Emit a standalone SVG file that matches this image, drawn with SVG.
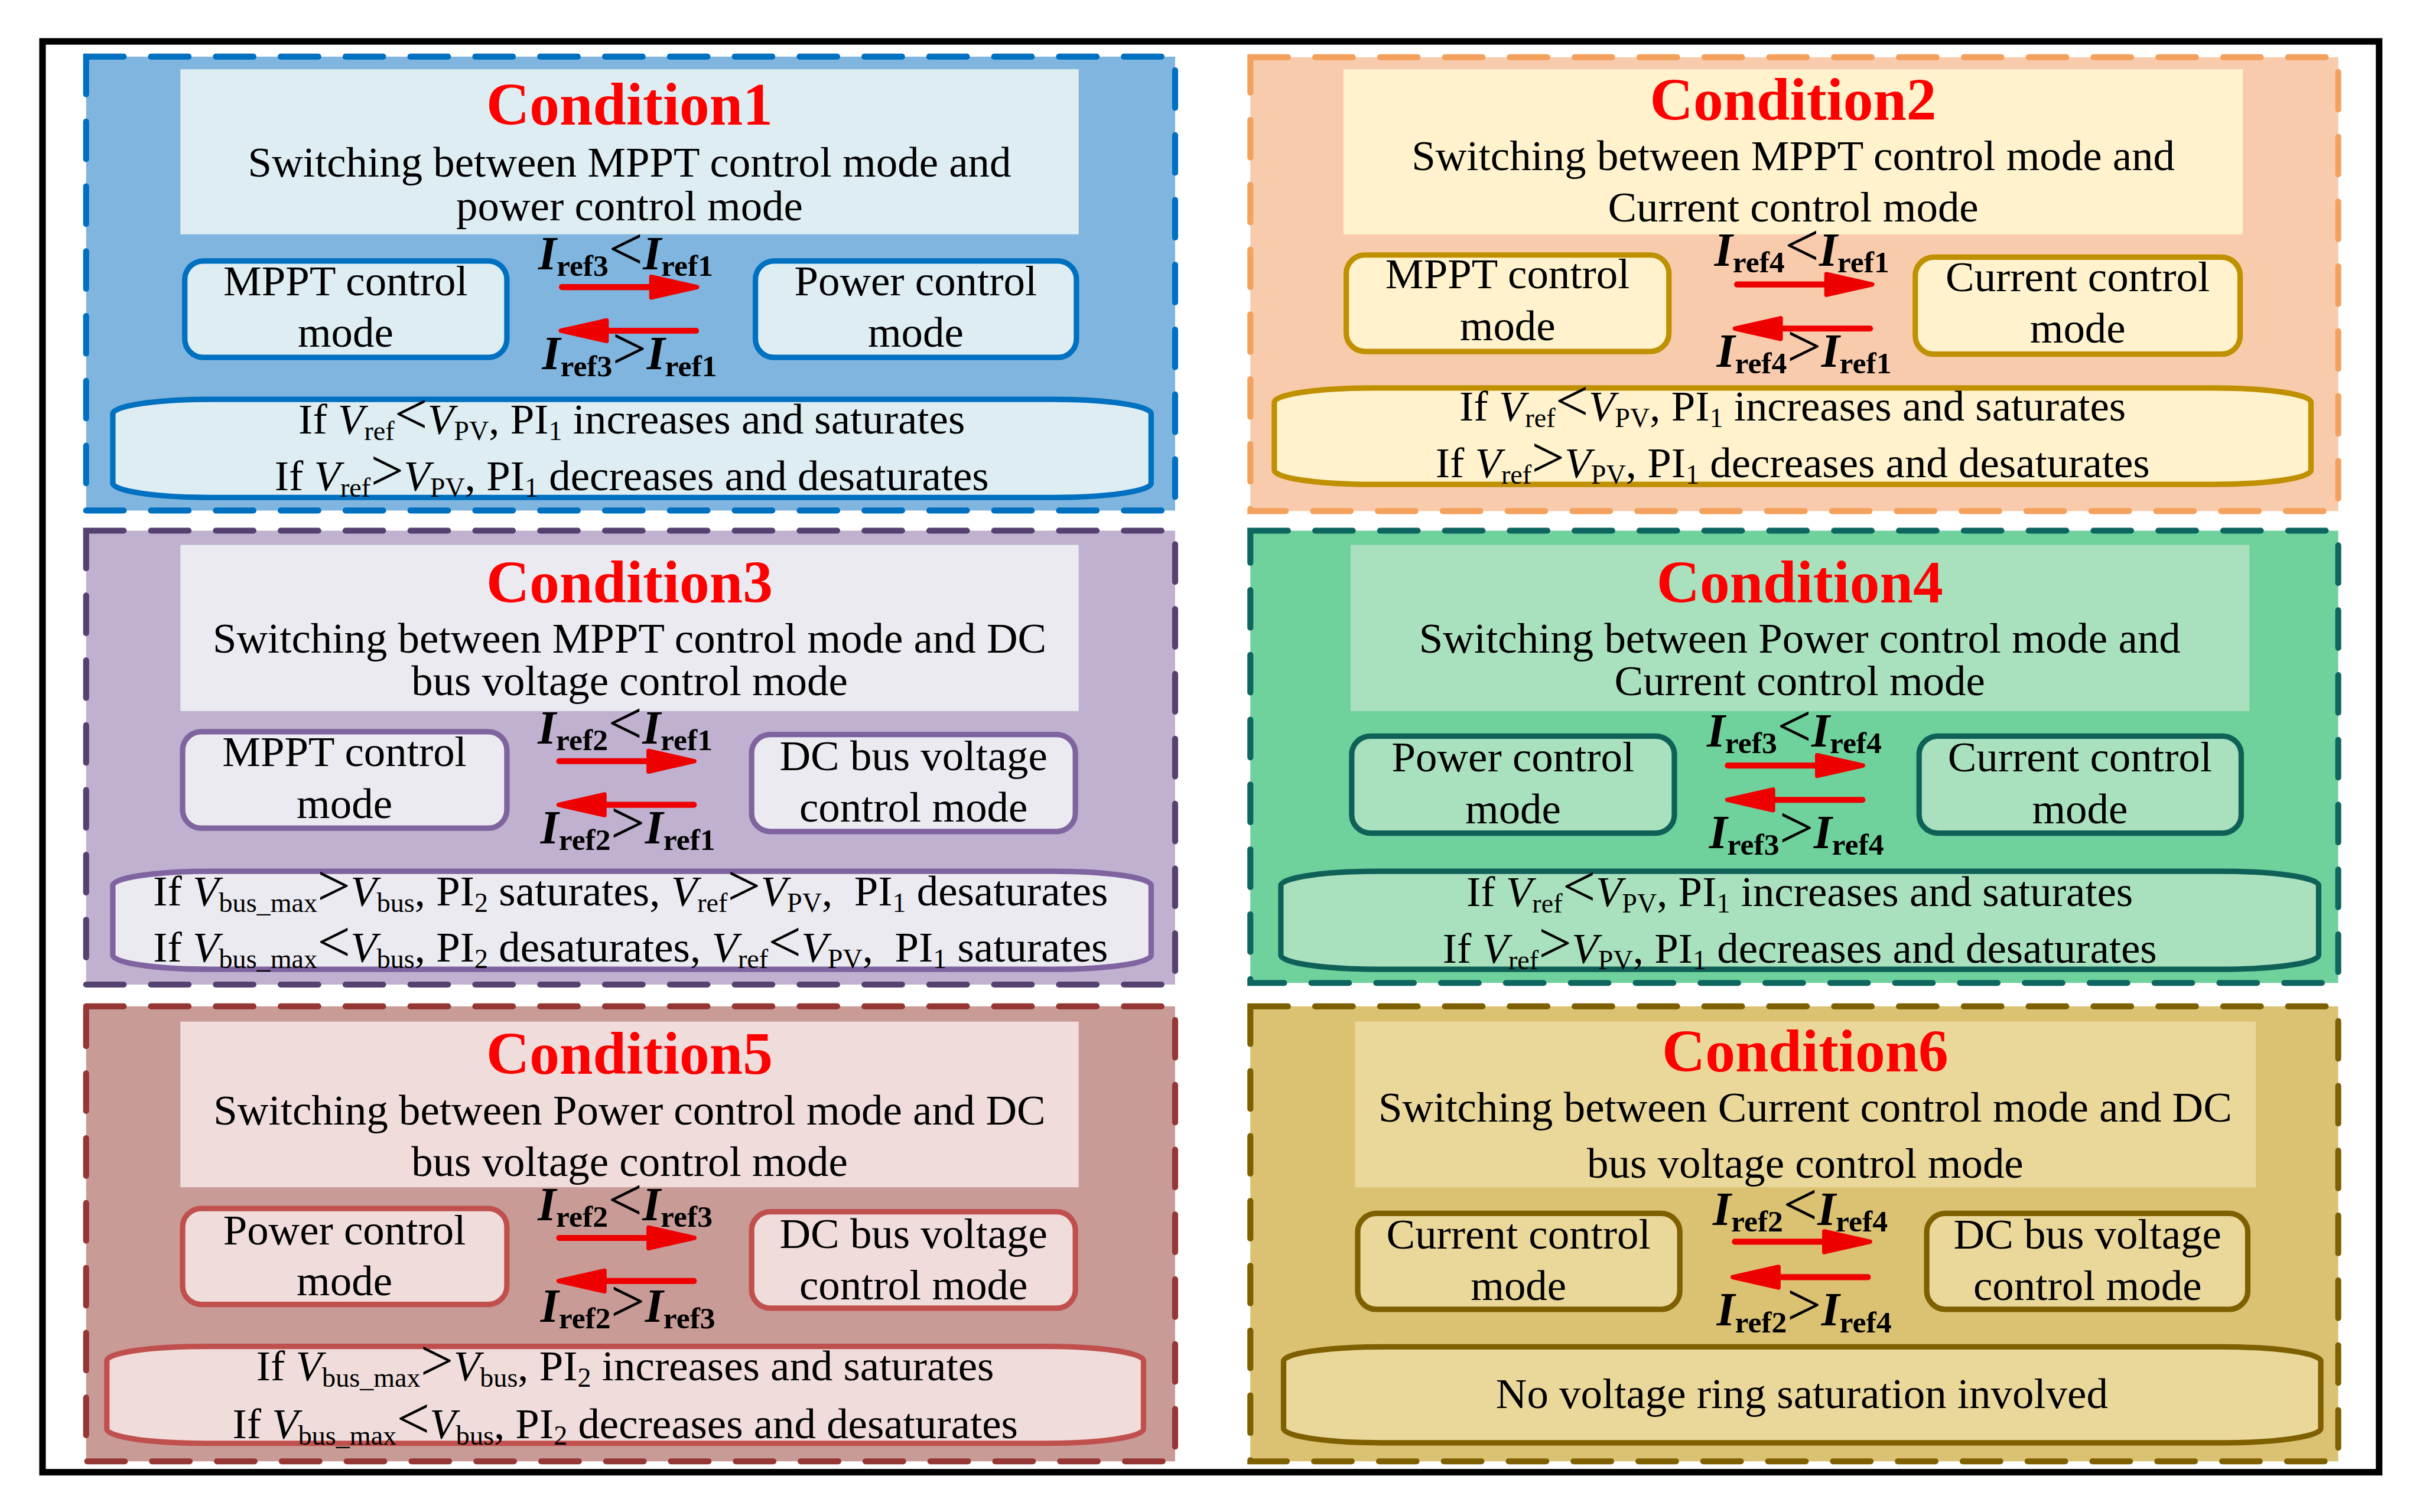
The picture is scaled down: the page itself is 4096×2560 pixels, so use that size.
<svg xmlns="http://www.w3.org/2000/svg" xmlns:xlink="http://www.w3.org/1999/xlink" width="4096" height="2560" viewBox="0 0 4096 2560">
<defs>
<style>
.panel{stroke-width:11;stroke-dasharray:69 50;stroke-linecap:round}
.box{stroke-width:10}
.cond{font-family:"Liberation Serif","Times New Roman",serif;font-weight:bold;font-size:110px;fill:#FF0000;text-anchor:middle}
.t{font-family:"Liberation Serif","Times New Roman",serif;font-size:79px;fill:#000;text-anchor:middle}
.i{font-style:italic}
.s{font-size:50px}
.op{font-size:108px}
.lab{font-family:"Liberation Serif","Times New Roman",serif;font-weight:bold;font-size:86px;fill:#000;text-anchor:middle}
.bi{font-style:italic}
.bs{font-size:56px}
.lop{font-weight:normal;font-size:112px}
.arr{fill:#EE0000;stroke:#EE0000;stroke-linejoin:round;stroke-linecap:round}
</style>
<g id="arrow">
<line x1="0" y1="0" x2="170" y2="0" stroke="#EE0000" stroke-width="11" stroke-linecap="round"/>
<polygon class="arr" stroke-width="8" points="164,-19 248,0 164,19"/>
</g>
</defs>
<rect width="4096" height="2560" fill="#FFFFFF"/>
<g transform="scale(0.92252)">
<rect x="78" y="76" width="4287" height="2626" fill="none" stroke="#000" stroke-width="12"/>

<!-- Condition 1 -->
<g id="condition1">
<rect class="panel" x="158" y="104" width="1998" height="833" fill="#7FB5DE" stroke="#0070C0"/>
<rect x="331" y="127" width="1648" height="303" fill="#DEEDF2"/>
<text class="cond" x="1155" y="229">Condition1</text>
<text class="t" x="1155" y="324">Switching between MPPT control mode and</text>
<text class="t" x="1155" y="404">power control mode</text>
<g id="c1-mppt"><rect class="box" x="339" y="479" width="591" height="177" rx="34" fill="#DEEDF2" stroke="#0070C0"/>
<text class="t" x="634" y="542">MPPT control</text><text class="t" x="634" y="636">mode</text></g>
<g id="c1-power"><rect class="box" x="1386" y="479" width="589" height="177" rx="34" fill="#DEEDF2" stroke="#0070C0"/>
<text class="t" x="1680" y="542">Power control</text><text class="t" x="1680" y="636">mode</text></g>
<text class="lab" x="1148" y="494"><tspan class="bi">I</tspan><tspan class="bs" dy="12">ref3</tspan><tspan class="lop" dy="-12">&lt;</tspan><tspan class="bi">I</tspan><tspan class="bs" dy="12">ref1</tspan></text>
<text class="lab" x="1155" y="678"><tspan class="bi">I</tspan><tspan class="bs" dy="12">ref3</tspan><tspan class="lop" dy="-12">&gt;</tspan><tspan class="bi">I</tspan><tspan class="bs" dy="12">ref1</tspan></text>
<g id="c1-cond"><rect class="box" x="207" y="733" width="1905" height="180" rx="180" ry="26" fill="#DEEDF2" stroke="#0070C0"/>
<text class="t" x="1159" y="796">If <tspan class="i">V</tspan><tspan class="s" dy="12">ref</tspan><tspan class="op" dy="-12">&lt;</tspan><tspan class="i">V</tspan><tspan class="s" dy="12">PV</tspan><tspan dy="-12">, PI</tspan><tspan class="s" dy="12">1</tspan><tspan dy="-12"> increases and saturates</tspan></text>
<text class="t" x="1159" y="900">If <tspan class="i">V</tspan><tspan class="s" dy="12">ref</tspan><tspan class="op" dy="-12">&gt;</tspan><tspan class="i">V</tspan><tspan class="s" dy="12">PV</tspan><tspan dy="-12">, PI</tspan><tspan class="s" dy="12">1</tspan><tspan dy="-12"> decreases and desaturates</tspan></text></g>
</g>

<!-- Condition 2 -->
<g id="condition2">
<rect class="panel" x="2294" y="105" width="1996" height="833" fill="#F8CBAD" stroke="#F4A15D"/>
<rect x="2465" y="127" width="1650" height="303" fill="#FFF2CC"/>
<text class="cond" x="3290" y="220">Condition2</text>
<text class="t" x="3290" y="312">Switching between MPPT control mode and</text>
<text class="t" x="3290" y="406">Current control mode</text>
<g id="c2-mppt"><rect class="box" x="2470" y="468" width="592" height="177" rx="34" fill="#FFF2CC" stroke="#BF9000"/>
<text class="t" x="2766" y="529">MPPT control</text><text class="t" x="2766" y="624">mode</text></g>
<g id="c2-current"><rect class="box" x="3514" y="472" width="596" height="178" rx="34" fill="#FFF2CC" stroke="#BF9000"/>
<text class="t" x="3812" y="534">Current control</text><text class="t" x="3812" y="629">mode</text></g>
<text class="lab" x="3306" y="488"><tspan class="bi">I</tspan><tspan class="bs" dy="12">ref4</tspan><tspan class="lop" dy="-12">&lt;</tspan><tspan class="bi">I</tspan><tspan class="bs" dy="12">ref1</tspan></text>
<text class="lab" x="3310" y="673"><tspan class="bi">I</tspan><tspan class="bs" dy="12">ref4</tspan><tspan class="lop" dy="-12">&gt;</tspan><tspan class="bi">I</tspan><tspan class="bs" dy="12">ref1</tspan></text>
<g id="c2-cond"><rect class="box" x="2338" y="712" width="1902" height="177" rx="180" ry="26" fill="#FFF2CC" stroke="#BF9000"/>
<text class="t" x="3289" y="772">If <tspan class="i">V</tspan><tspan class="s" dy="12">ref</tspan><tspan class="op" dy="-12">&lt;</tspan><tspan class="i">V</tspan><tspan class="s" dy="12">PV</tspan><tspan dy="-12">, PI</tspan><tspan class="s" dy="12">1</tspan><tspan dy="-12"> increases and saturates</tspan></text>
<text class="t" x="3289" y="876">If <tspan class="i">V</tspan><tspan class="s" dy="12">ref</tspan><tspan class="op" dy="-12">&gt;</tspan><tspan class="i">V</tspan><tspan class="s" dy="12">PV</tspan><tspan dy="-12">, PI</tspan><tspan class="s" dy="12">1</tspan><tspan dy="-12"> decreases and desaturates</tspan></text></g>
</g>

<!-- Condition 3 -->
<g id="condition3">
<rect class="panel" x="158" y="974" width="1998" height="833" fill="#BFB1CF" stroke="#554270"/>
<rect x="331" y="1000" width="1648" height="305" fill="#ECEAF1"/>
<text class="cond" x="1155" y="1106">Condition3</text>
<text class="t" x="1155" y="1198">Switching between MPPT control mode and DC</text>
<text class="t" x="1155" y="1276">bus voltage control mode</text>
<g id="c3-mppt"><rect class="box" x="335" y="1343" width="595" height="177" rx="34" fill="#ECEAF1" stroke="#7F64A0"/>
<text class="t" x="632" y="1406">MPPT control</text><text class="t" x="632" y="1501">mode</text></g>
<g id="c3-dcbus"><rect class="box" x="1379" y="1348" width="594" height="178" rx="34" fill="#ECEAF1" stroke="#7F64A0"/>
<text class="t" x="1676" y="1414">DC bus voltage</text><text class="t" x="1676" y="1508">control mode</text></g>
<text class="lab" x="1147" y="1365"><tspan class="bi">I</tspan><tspan class="bs" dy="12">ref2</tspan><tspan class="lop" dy="-12">&lt;</tspan><tspan class="bi">I</tspan><tspan class="bs" dy="12">ref1</tspan></text>
<text class="lab" x="1152" y="1548"><tspan class="bi">I</tspan><tspan class="bs" dy="12">ref2</tspan><tspan class="lop" dy="-12">&gt;</tspan><tspan class="bi">I</tspan><tspan class="bs" dy="12">ref1</tspan></text>
<g id="c3-cond"><rect class="box" x="207" y="1599" width="1905" height="180" rx="180" ry="26" fill="#ECEAF1" stroke="#7F64A0"/>
<text class="t" x="1157" y="1662">If <tspan class="i">V</tspan><tspan class="s" dy="12">bus_max</tspan><tspan class="op" dy="-12">&gt;</tspan><tspan class="i">V</tspan><tspan class="s" dy="12">bus</tspan><tspan dy="-12">, PI</tspan><tspan class="s" dy="12">2</tspan><tspan dy="-12"> saturates, </tspan><tspan class="i">V</tspan><tspan class="s" dy="12">ref</tspan><tspan class="op" dy="-12">&gt;</tspan><tspan class="i">V</tspan><tspan class="s" dy="12">PV</tspan><tspan dy="-12" xml:space="preserve">,  PI</tspan><tspan class="s" dy="12">1</tspan><tspan dy="-12"> desaturates</tspan></text>
<text class="t" x="1157" y="1765">If <tspan class="i">V</tspan><tspan class="s" dy="12">bus_max</tspan><tspan class="op" dy="-12">&lt;</tspan><tspan class="i">V</tspan><tspan class="s" dy="12">bus</tspan><tspan dy="-12">, PI</tspan><tspan class="s" dy="12">2</tspan><tspan dy="-12"> desaturates, </tspan><tspan class="i">V</tspan><tspan class="s" dy="12">ref</tspan><tspan class="op" dy="-12">&lt;</tspan><tspan class="i">V</tspan><tspan class="s" dy="12">PV</tspan><tspan dy="-12" xml:space="preserve">,  PI</tspan><tspan class="s" dy="12">1</tspan><tspan dy="-12"> saturates</tspan></text></g>
</g>

<!-- Condition 4 -->
<g id="condition4">
<rect class="panel" x="2294" y="974" width="1996" height="830" fill="#6FD19C" stroke="#0E6660"/>
<rect x="2478" y="1000" width="1649" height="305" fill="#A9E1BF"/>
<text class="cond" x="3302" y="1106">Condition4</text>
<text class="t" x="3302" y="1198">Switching between Power control mode and</text>
<text class="t" x="3302" y="1276">Current control mode</text>
<g id="c4-power"><rect class="box" x="2480" y="1351" width="592" height="178" rx="34" fill="#A9E1BF" stroke="#0F6158"/>
<text class="t" x="2776" y="1416">Power control</text><text class="t" x="2776" y="1511">mode</text></g>
<g id="c4-current"><rect class="box" x="3521" y="1351" width="591" height="178" rx="34" fill="#A9E1BF" stroke="#0F6158"/>
<text class="t" x="3816" y="1416">Current control</text><text class="t" x="3816" y="1511">mode</text></g>
<text class="lab" x="3292" y="1370"><tspan class="bi">I</tspan><tspan class="bs" dy="12">ref3</tspan><tspan class="lop" dy="-12">&lt;</tspan><tspan class="bi">I</tspan><tspan class="bs" dy="12">ref4</tspan></text>
<text class="lab" x="3296" y="1557"><tspan class="bi">I</tspan><tspan class="bs" dy="12">ref3</tspan><tspan class="lop" dy="-12">&gt;</tspan><tspan class="bi">I</tspan><tspan class="bs" dy="12">ref4</tspan></text>
<g id="c4-cond"><rect class="box" x="2350" y="1599" width="1904" height="180" rx="180" ry="26" fill="#A9E1BF" stroke="#0F6158"/>
<text class="t" x="3302" y="1663">If <tspan class="i">V</tspan><tspan class="s" dy="12">ref</tspan><tspan class="op" dy="-12">&lt;</tspan><tspan class="i">V</tspan><tspan class="s" dy="12">PV</tspan><tspan dy="-12">, PI</tspan><tspan class="s" dy="12">1</tspan><tspan dy="-12"> increases and saturates</tspan></text>
<text class="t" x="3302" y="1767">If <tspan class="i">V</tspan><tspan class="s" dy="12">ref</tspan><tspan class="op" dy="-12">&gt;</tspan><tspan class="i">V</tspan><tspan class="s" dy="12">PV</tspan><tspan dy="-12">, PI</tspan><tspan class="s" dy="12">1</tspan><tspan dy="-12"> decreases and desaturates</tspan></text></g>
</g>

<!-- Condition 5 -->
<g id="condition5">
<rect class="panel" x="158" y="1847" width="1998" height="835" fill="#C99B97" stroke="#953735"/>
<rect x="331" y="1875" width="1648" height="304" fill="#F0DCDB"/>
<text class="cond" x="1155" y="1971">Condition5</text>
<text class="t" x="1155" y="2064">Switching between Power control mode and DC</text>
<text class="t" x="1155" y="2158">bus voltage control mode</text>
<g id="c5-power"><rect class="box" x="335" y="2218" width="595" height="176" rx="34" fill="#F0DCDB" stroke="#C0504D"/>
<text class="t" x="632" y="2284">Power control</text><text class="t" x="632" y="2377">mode</text></g>
<g id="c5-dcbus"><rect class="box" x="1379" y="2224" width="594" height="177" rx="34" fill="#F0DCDB" stroke="#C0504D"/>
<text class="t" x="1676" y="2290">DC bus voltage</text><text class="t" x="1676" y="2385">control mode</text></g>
<text class="lab" x="1147" y="2240"><tspan class="bi">I</tspan><tspan class="bs" dy="12">ref2</tspan><tspan class="lop" dy="-12">&lt;</tspan><tspan class="bi">I</tspan><tspan class="bs" dy="12">ref3</tspan></text>
<text class="lab" x="1152" y="2426"><tspan class="bi">I</tspan><tspan class="bs" dy="12">ref2</tspan><tspan class="lop" dy="-12">&gt;</tspan><tspan class="bi">I</tspan><tspan class="bs" dy="12">ref3</tspan></text>
<g id="c5-cond"><rect class="box" x="196" y="2471" width="1902" height="178" rx="180" ry="26" fill="#F0DCDB" stroke="#C0504D"/>
<text class="t" x="1147" y="2533">If <tspan class="i">V</tspan><tspan class="s" dy="12">bus_max</tspan><tspan class="op" dy="-12">&gt;</tspan><tspan class="i">V</tspan><tspan class="s" dy="12">bus</tspan><tspan dy="-12">, PI</tspan><tspan class="s" dy="12">2</tspan><tspan dy="-12"> increases and saturates</tspan></text>
<text class="t" x="1147" y="2639">If <tspan class="i">V</tspan><tspan class="s" dy="12">bus_max</tspan><tspan class="op" dy="-12">&lt;</tspan><tspan class="i">V</tspan><tspan class="s" dy="12">bus</tspan><tspan dy="-12">, PI</tspan><tspan class="s" dy="12">2</tspan><tspan dy="-12"> decreases and desaturates</tspan></text></g>
</g>

<!-- Condition 6 -->
<g id="condition6">
<rect class="panel" x="2294" y="1847" width="1996" height="835" fill="#DBC172" stroke="#7F6000"/>
<rect x="2486" y="1875" width="1653" height="304" fill="#EAD89B"/>
<text class="cond" x="3312" y="1966">Condition6</text>
<text class="t" x="3312" y="2058">Switching between Current control mode and DC</text>
<text class="t" x="3312" y="2161">bus voltage control mode</text>
<g id="c6-current"><rect class="box" x="2491" y="2227" width="591" height="176" rx="34" fill="#EAD89B" stroke="#7F6000"/>
<text class="t" x="2786" y="2292">Current control</text><text class="t" x="2786" y="2386">mode</text></g>
<g id="c6-dcbus"><rect class="box" x="3535" y="2227" width="589" height="176" rx="34" fill="#EAD89B" stroke="#7F6000"/>
<text class="t" x="3830" y="2292">DC bus voltage</text><text class="t" x="3830" y="2386">control mode</text></g>
<text class="lab" x="3303" y="2248"><tspan class="bi">I</tspan><tspan class="bs" dy="12">ref2</tspan><tspan class="lop" dy="-12">&lt;</tspan><tspan class="bi">I</tspan><tspan class="bs" dy="12">ref4</tspan></text>
<text class="lab" x="3310" y="2433"><tspan class="bi">I</tspan><tspan class="bs" dy="12">ref2</tspan><tspan class="lop" dy="-12">&gt;</tspan><tspan class="bi">I</tspan><tspan class="bs" dy="12">ref4</tspan></text>
<g id="c6-cond"><rect class="box" x="2355" y="2472" width="1903" height="176" rx="180" ry="26" fill="#EAD89B" stroke="#7F6000"/>
<text class="t" x="3306" y="2584">No voltage ring saturation involved</text></g>
</g>

<!-- Connectors -->
<g id="connectors">
<use xlink:href="#arrow" transform="translate(1031,527)"/>
<use xlink:href="#arrow" transform="translate(1277,607) scale(-1,1)"/>
<use xlink:href="#arrow" transform="translate(3187,522)"/>
<use xlink:href="#arrow" transform="translate(3431,603) scale(-1,1)"/>
<use xlink:href="#arrow" transform="translate(1026,1397)"/>
<use xlink:href="#arrow" transform="translate(1273,1477) scale(-1,1)"/>
<use xlink:href="#arrow" transform="translate(3170,1405)"/>
<use xlink:href="#arrow" transform="translate(3417,1468) scale(-1,1)"/>
<use xlink:href="#arrow" transform="translate(1026,2272)"/>
<use xlink:href="#arrow" transform="translate(1273,2351) scale(-1,1)"/>
<use xlink:href="#arrow" transform="translate(3183,2279)"/>
<use xlink:href="#arrow" transform="translate(3427,2344) scale(-1,1)"/>
</g>
</g>
</svg>
